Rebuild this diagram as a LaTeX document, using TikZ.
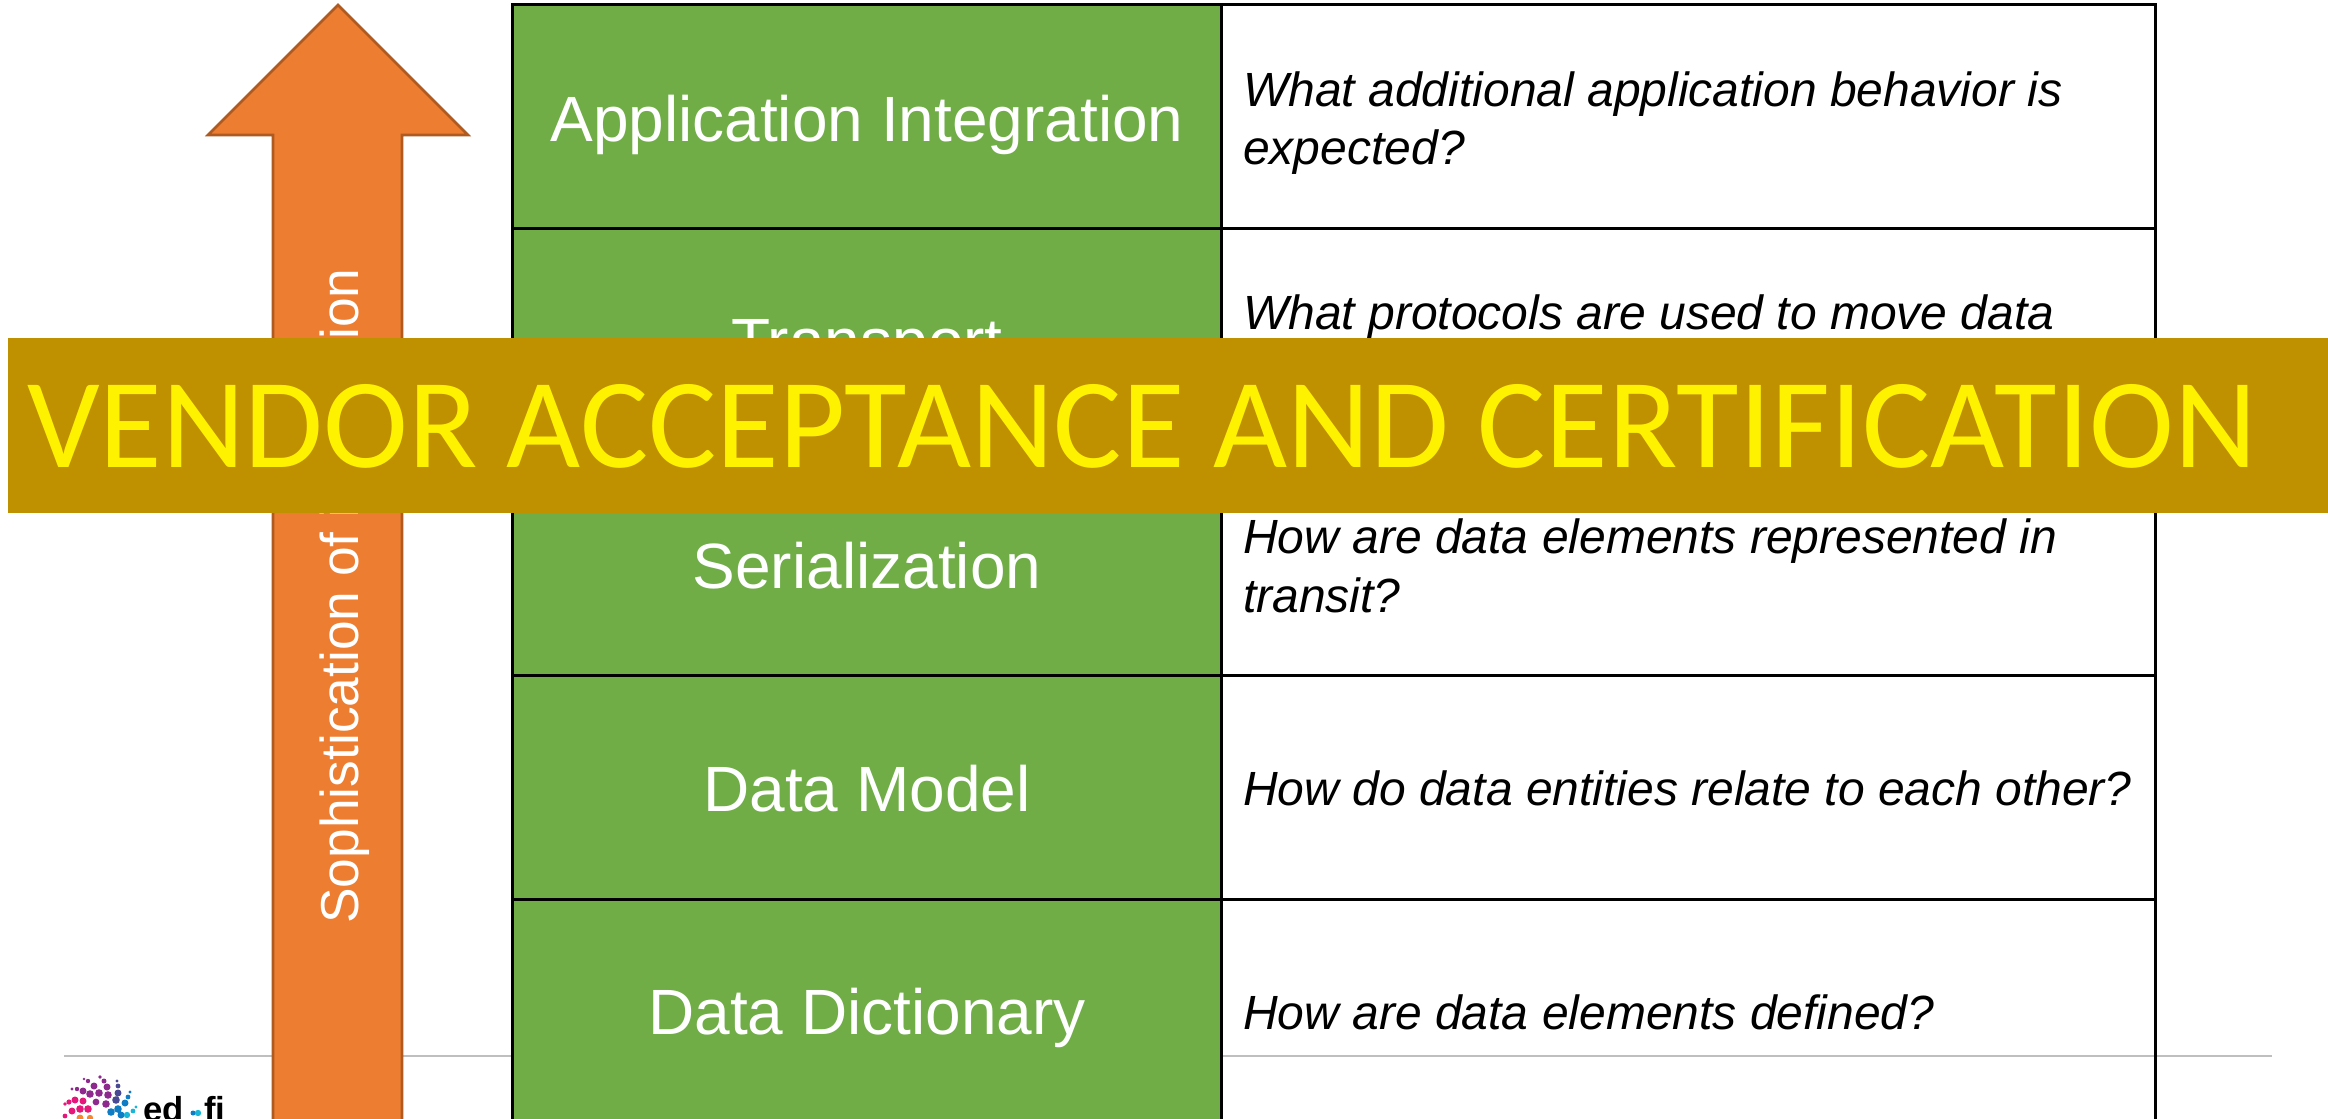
\documentclass[tikz,border=0pt]{standalone}
\usepackage{fontspec}
\setmainfont{Liberation Sans}
\newfontfamily\bannerfont{Carlito}
\definecolor{cellgreen}{HTML}{70AD47}
\definecolor{arroworange}{HTML}{ED7D31}
\definecolor{arrowedge}{HTML}{AE5A21}
\definecolor{bannergold}{HTML}{BF9000}
\definecolor{rulegray}{HTML}{BFBFBF}
\definecolor{dotpurple}{HTML}{8E2A8E}
\definecolor{dotpink}{HTML}{E5177B}
\definecolor{dotindigo}{HTML}{4A4A94}
\definecolor{dotblue}{HTML}{0F7CC4}
\definecolor{dotcyan}{HTML}{19B5D6}
\definecolor{dotorange}{HTML}{F58634}
\tikzset{
  layername/.style={anchor=base, inner sep=0pt, text=white, font=\fontsize{48}{56}\selectfont},
  question/.style={anchor=west, align=left, inner sep=0pt, font=\fontsize{36}{44}\selectfont\itshape},
  cell/.style={draw=black, line width=2.25pt},
  logotext/.style={anchor=base west, inner sep=0pt, font=\fontsize{26}{26}\selectfont\bfseries}
}

\begin{document}
\begin{tikzpicture}[x=0.75pt,y=-0.75pt]
% pixel coordinates of the slide, origin top left
\useasboundingbox (0,0) rectangle (2328,1119);
\clip (0,0) rectangle (2328,1119);

\coordinate (ruleL) at (64,1056);
\coordinate (ruleR) at (2272,1056);
\draw[rulegray, line width=1.5pt] (ruleL) -- (ruleR);

% arrow
\filldraw[fill=arroworange, draw=arrowedge, line width=2pt] (338,5) -- (468,135) -- (402,135) -- (402,1135) -- (273,1135) -- (273,135) -- (208,135) -- cycle;
\node[rotate=90, text=white, font=\fontsize{40}{40}\selectfont] (sophist) at (345,596) {Sophistication of integration};

% left column
\filldraw[cell, fill=cellgreen] (512,5) rectangle (1221,228.5);
\node[layername] (appl) at (867,142) {Application Integration};
\filldraw[cell, fill=cellgreen] (512,228.5) rectangle (1221,452);
\node[layername] (transp) at (867,364) {Transport};
\filldraw[cell, fill=cellgreen] (512,452) rectangle (1221,675.5);
\node[layername] (serial) at (867,589) {Serialization};
\filldraw[cell, fill=cellgreen] (512,675.5) rectangle (1221,899);
\node[layername] (model) at (867,811) {Data Model};
\filldraw[cell, fill=cellgreen] (512,899) rectangle (1221,1135);
\node[layername] (dict) at (867,1034) {Data Dictionary};

% right column
\draw[cell] (1221,5) rectangle (2155,228.5);
\node[question] (qappl) at (1243,123) {What additional application behavior is\\expected?};
\draw[cell] (1221,228.5) rectangle (2155,452);
\node[question] (qtransp) at (1243,317) {What protocols are used to move data};
\draw[cell] (1221,452) rectangle (2155,675.5);
\node[question] (qserial) at (1243,566) {How are data elements represented in\\transit?};
\draw[cell] (1221,675.5) rectangle (2155,899);
\node[question] (qmodel) at (1243,788) {How do data entities relate to each other?};
\draw[cell] (1221,899) rectangle (2155,1135);
\node[question] (qdict) at (1243,1012) {How are data elements defined?};

% logo
\fill[dotpurple] (100,1077) circle (1.8) (104,1081) circle (2.5) (88,1081) circle (2.2) (84,1079) circle (1.4) (94,1086) circle (3.5) (107,1087) circle (3.5) (83,1091) circle (3.5) (77,1089) circle (2.2) (72,1089) circle (1.7) (90,1094) circle (3.8) (99,1093) circle (3.8) (108,1095) circle (3.8) (96,1102) circle (3.4) (106,1104) circle (3.8);
\fill[dotpink] (75,1100) circle (3.5) (69,1102) circle (2.6) (65,1104) circle (1.8) (83,1101) circle (3.5) (80,1109) circle (3.8) (88,1109) circle (3.8) (72,1111) circle (3.5) (65,1116) circle (2.4);
\fill[dotindigo] (117,1081) circle (1.6) (118,1086) circle (2.4) (118,1093) circle (3.5) (116,1100) circle (3.8);
\fill[dotblue] (130,1092) circle (1.6) (128,1097) circle (2.4) (125,1103) circle (3.5) (118,1109) circle (3.8) (111,1112) circle (3.8) (121,1115) circle (3.5);
\fill[dotcyan] (136,1107) circle (1.6) (133,1111) circle (2.4) (127,1115) circle (3.2);
\fill[dotorange] (80,1118) circle (3.5) (90,1118) circle (3.2);
\node[logotext] (logoed) at (143,1121) {ed};
\fill[dotblue] (193,1113) circle (2.5);
\fill[dotcyan] (198,1113) circle (3.2);
\node[logotext] (logofi) at (204,1121) {fi};

% banner
\fill[bannergold] (8,338) rectangle (2328,513);
\node[text=yellow, font=\bannerfont\fontsize{96}{96}\selectfont, anchor=base west, inner sep=0pt] (banner) at (27,468) {VENDOR ACCEPTANCE AND CERTIFICATION};
\end{tikzpicture}
\end{document}
